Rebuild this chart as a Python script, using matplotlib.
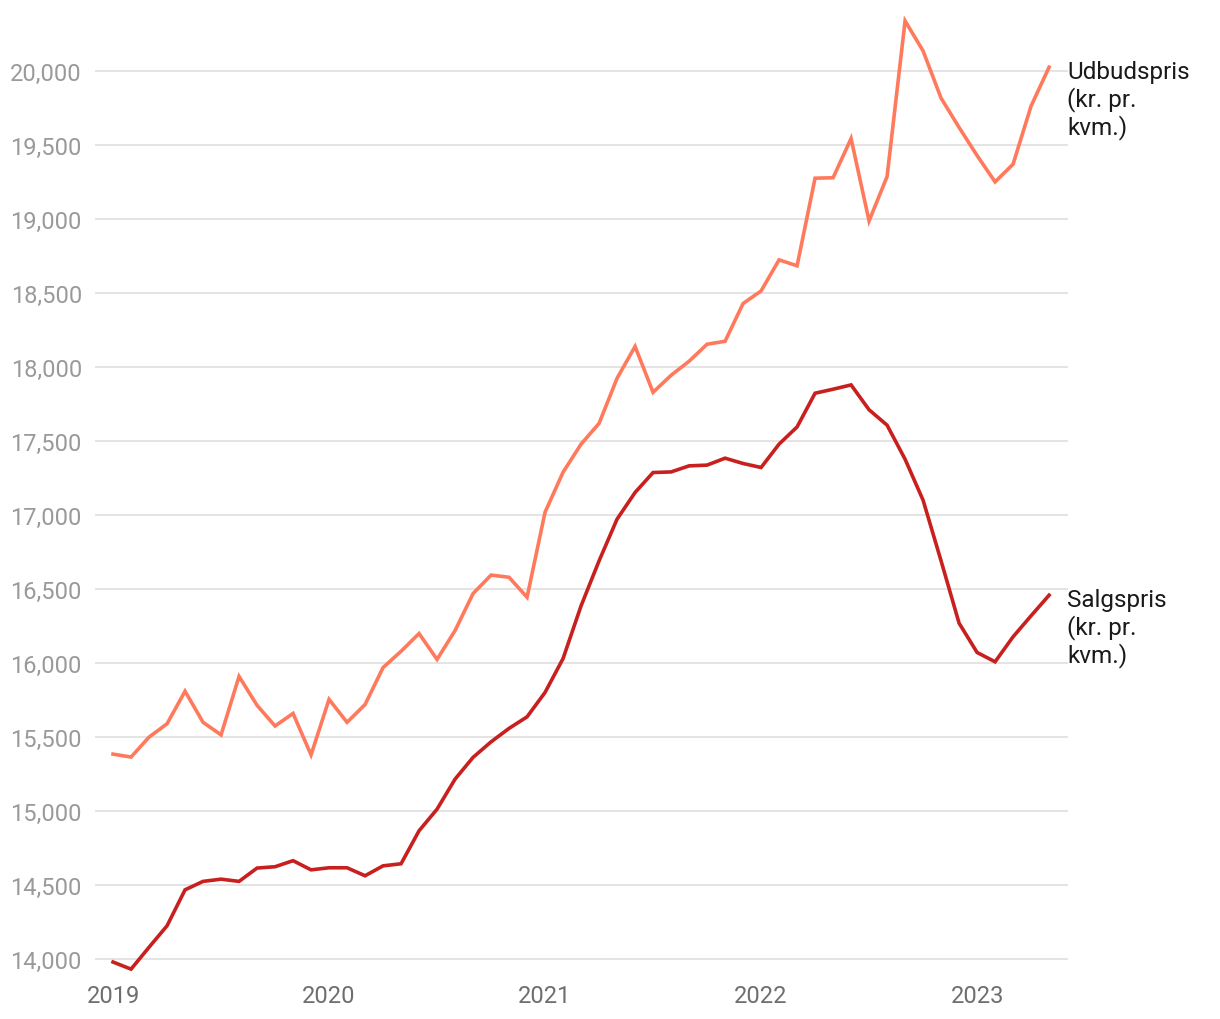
import numpy as np
import matplotlib
matplotlib.use("Agg")
import matplotlib.pyplot as plt
from matplotlib.ticker import FuncFormatter

plt.rcParams['font.family'] = ['Roboto', 'DejaVu Sans']

# monthly, jan 2019 - maj 2023
months = np.arange(53)
year_ticks = [0, 12, 24, 36, 48]
year_labels = ['2019', '2020', '2021', '2022', '2023']

udbud = [15385, 15365, 15500, 15590, 15810, 15600, 15515, 15910, 15715, 15575,
         15660, 15380, 15755, 15600, 15720, 15970, 16080, 16200, 16025, 16220,
         16470, 16595, 16580, 16445, 17020, 17290, 17480, 17620, 17925, 18140,
         17830, 17945, 18040, 18155, 18175, 18430, 18515, 18725, 18685, 19277,
         19280, 19545, 18988, 19288, 20340, 20137, 19818, 19620, 19430, 19252,
         19372, 19765, 20027]

salg = [13980, 13932, 14080, 14225, 14468, 14525, 14540, 14525, 14615, 14624,
        14665, 14603, 14617, 14617, 14563, 14630, 14644, 14867, 15013, 15216,
        15363, 15468, 15559, 15637, 15802, 16031, 16387, 16691, 16973, 17153,
        17288, 17292, 17333, 17338, 17385, 17349, 17322, 17480, 17596, 17824,
        17851, 17880, 17712, 17608, 17378, 17101, 16691, 16270, 16072, 16009,
        16178, 16320, 16459]

fig = plt.figure(figsize=(12.2, 10.2), dpi=100)
ax = fig.add_axes([0.0779, 0.0441, 0.7975, 0.9459])

ax.plot(months, udbud, color='#FF7A5C', lw=2.6, solid_joinstyle='miter', zorder=3)
ax.plot(months, salg, color='#C8201F', lw=2.6, solid_joinstyle='miter', zorder=3)

ax.set_xlim(-1, 53.05)
ax.set_ylim(13899, 20419)
ax.set_yticks(np.arange(14000, 20001, 500))
ax.yaxis.set_major_formatter(FuncFormatter(lambda v, p: '{:,.0f}'.format(v)))
ax.set_xticks(year_ticks)
ax.set_xticklabels(year_labels)

ax.grid(axis='y', color='#e2e2e2', lw=1.3)
ax.set_axisbelow(True)
for s in ax.spines.values():
    s.set_visible(False)
ax.tick_params(axis='y', length=0, pad=9.5, labelsize=17, labelcolor='#9a9a9a')
ax.tick_params(axis='x', length=0, pad=7, labelsize=17, labelcolor='#6e6e6e')

ax.annotate('Udbudspris\n(kr. pr.\nkvm.)', xy=(months[-1], udbud[-1]), xytext=(13, 5),
            textcoords='offset points', ha='left', va='top', fontsize=17.5,
            color='#1a1a1a', linespacing=1.15, annotation_clip=False)
ax.annotate('Salgspris\n(kr. pr.\nkvm.)', xy=(months[-1], salg[-1]), xytext=(13, 5),
            textcoords='offset points', ha='left', va='top', fontsize=17.5,
            color='#1a1a1a', linespacing=1.15, annotation_clip=False)

fig.savefig('out.png', dpi=100)
